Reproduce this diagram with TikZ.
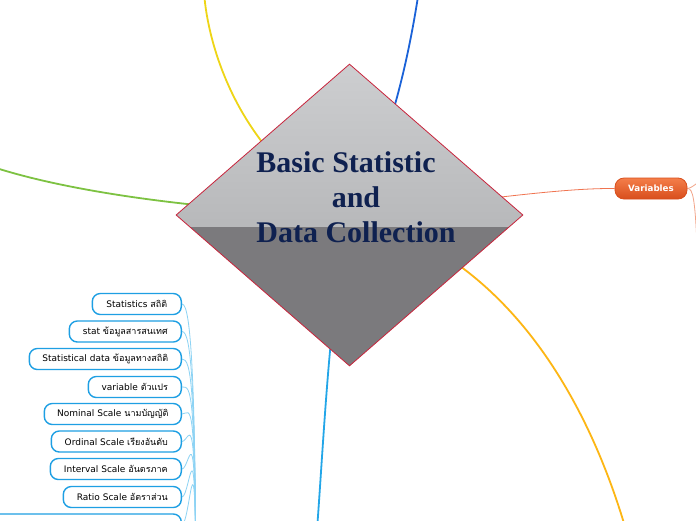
\documentclass[tikz,border=0pt]{standalone}
\usepackage{fontspec}
\setmainfont{DejaVu Sans}
\newfontfamily\thaifont[Script=Thai]{Loma}
\newfontfamily\titlefont{Liberation Serif}
\usetikzlibrary{shapes.geometric,calc,backgrounds}
\newcommand\thai[1]{{\thaifont #1}}
\definecolor{rimred}{HTML}{C8243C}
\definecolor{dtop}{HTML}{CDCED0}
\definecolor{dmid}{HTML}{A5A6A8}
\definecolor{dlow}{HTML}{7B7A7D}
\definecolor{titleblue}{HTML}{0F2150}
\definecolor{leafblue}{HTML}{1E9FE3}
\definecolor{leafline}{HTML}{8DD3F4}
\definecolor{cyellow}{HTML}{EED516}
\definecolor{cblue}{HTML}{1A62D8}
\definecolor{cgreen}{HTML}{7DC242}
\definecolor{cred}{HTML}{F07450}
\definecolor{cgold}{HTML}{FDB614}
\definecolor{clblue}{HTML}{23A6E8}
\definecolor{vtop}{HTML}{F47E4A}
\definecolor{vbot}{HTML}{D84E1C}
\definecolor{vline}{HTML}{F2A488}
\tikzset{
  leaf/.style={rectangle, anchor=east, rounded corners=8, draw=leafblue, line width=1.4,
    fill=white, minimum height=21, inner xsep=6, inner ysep=0,
    font=\fontsize{9}{10}\selectfont},
  leafconn/.style={draw=leafline, line width=0.8},
  branch/.style={line width=1.8},
  varnode/.style={rectangle, rounded corners=9, draw=vbot, line width=0.8,
    top color=vtop, bottom color=vbot, minimum width=72, minimum height=21,
    inner sep=0, text=white, font=\bfseries\fontsize{8.7}{10}\selectfont}
}
\begin{document}
\begin{tikzpicture}[x=1pt,y=-1pt]
\useasboundingbox (0,0) rectangle (696,520);

% central diamond
\node[diamond, draw=rimred, line width=0.8, minimum width=347, minimum height=302, inner sep=0,
  path picture={
    \shade[top color=dtop, bottom color=dmid]
      (path picture bounding box.north west) rectangle ($(path picture bounding box.east)+(0,12)$);
    \fill[dlow] ($(path picture bounding box.west)+(0,12)$) rectangle (path picture bounding box.south east);
  }] (root) at (349.5,215) {};
\node[inner sep=0, align=center, text=titleblue,
  font=\titlefont\bfseries\fontsize{30}{35}\selectfont] (title) at (356,197)
  {Basic Statistic\kern20pt\\and\\Data Collection};

% Variables node
\node[varnode] (var) at (651,188.5) {Variables};

% left list
\node[leaf, minimum width=89]  (s1) at (182,304) {Statistics \thai{สถิติ}};
\node[leaf, minimum width=112] (s2) at (182,331.5) {stat \thai{ข้อมูลสารสนเทศ}};
\node[leaf, minimum width=152] (s3) at (182,359) {Statistical data \thai{ข้อมูลทางสถิติ}};
\node[leaf, minimum width=93]  (s4) at (182,387) {variable \thai{ตัวแปร}};
\node[leaf, minimum width=137] (s5) at (182,414) {Nominal Scale \thai{นามบัญญัติ}};
\node[leaf, minimum width=130] (s6) at (182,441.5) {Ordinal Scale \thai{เรียงอันดับ}};
\node[leaf, minimum width=131] (s7) at (182,469) {Interval Scale \thai{อันตรภาค}};
\node[leaf, minimum width=118] (s8) at (182,497) {Ratio Scale \thai{อัตราส่วน}};
\node[leaf, minimum width=260] (s9) at (182,524.5) {};

% free ends
\coordinate (yel) at (204,-8);
\coordinate (blu) at (419,-10);
\coordinate (grn) at (-10,166);
\coordinate (gld) at (626,530);
\coordinate (lbl) at (317,530);
\coordinate (lp)  at (196,640);
\coordinate (vup) at (702,180);
\coordinate (vdn) at (697,245);

\begin{scope}[on background layer]
  \fill[white] (0,0) rectangle (696,520);
  \clip (0,0) rectangle (696,520);
  \draw[branch, cyellow] (root.center) .. controls (242,160) and (208,50) .. (yel);
  \draw[branch, cblue] (root.center) .. controls (390,150) and (410,50) .. (blu);
  \draw[branch, cgreen] (root.center) .. controls (230,212) and (80,196) .. (grn);
  \draw[cred, line width=0.8] (root.center) .. controls (480,200) and (560,188) .. (var.west);
  \draw[branch, cgold] (root.center) .. controls (500,250) and (585,390) .. (gld);
  \draw[branch, clblue] (root.center) .. controls (330,300) and (325,420) .. (lbl);
  \draw[vline, line width=0.8] (var.east) .. controls (692,188) and (695,184) .. (vup);
  \draw[vline, line width=0.8] (var.east) .. controls (693,188) and (695,200) .. (vdn);
  \foreach \n in {s1,s2,s3,s4,s5,s6,s7,s8,s9}{
    \draw[leafconn] (\n.east) .. controls +(9,0) and +(0,-260) .. (lp);
  }
\end{scope}
\end{tikzpicture}
\end{document}
